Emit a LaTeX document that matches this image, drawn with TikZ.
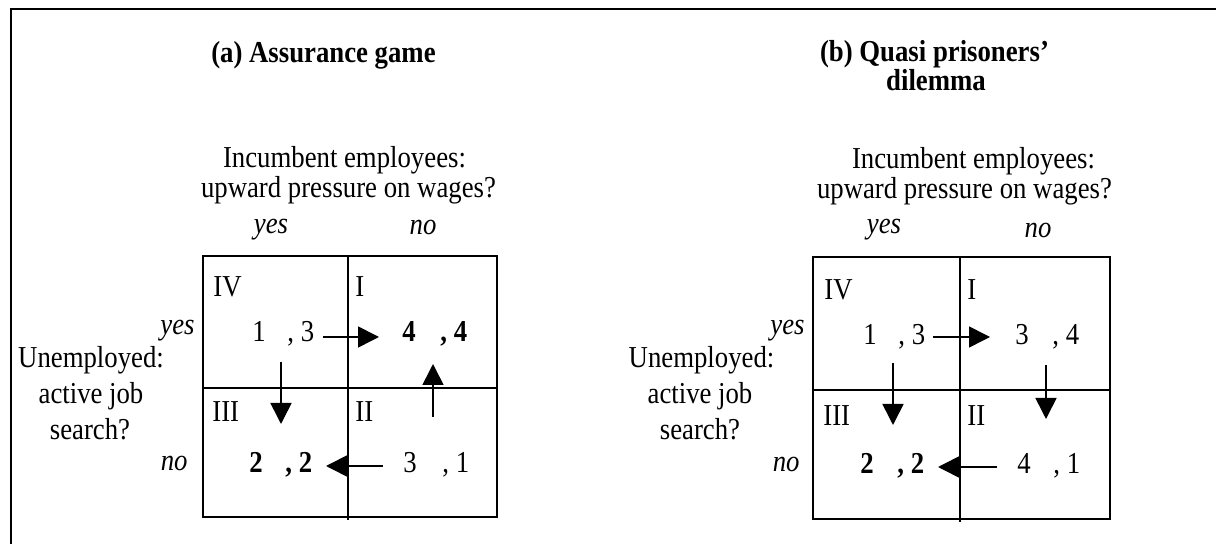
\documentclass[tikz,border=0pt]{standalone}
\usepackage{fontspec}
\setmainfont{Liberation Serif}[FakeStretch=0.88]
\usetikzlibrary{arrows.meta}
\tikzset{
  txt/.style={font=\fontsize{15.2}{17}\selectfont, inner sep=0pt, anchor=base, text height=10.2pt, text depth=3pt},
  itx/.style={txt, font=\fontsize{15.2}{17}\selectfont\itshape},
  bfx/.style={txt, font=\fontsize{15.2}{17}\selectfont\bfseries},
  gridline/.style={line width=1pt},
  frameline/.style={line width=1.3pt},
  arr/.style={line width=0.8pt, -{Triangle[length=10.5pt,width=10.5pt]}},
}
\begin{document}
\begin{tikzpicture}[x=0.5pt,y=-0.5pt]
\useasboundingbox (0,0) rectangle (1216,544);
% outer frame (top and left only)
\coordinate (fTL) at (11,9);
\coordinate (fTR) at (1216,9);
\coordinate (fBL) at (11,544);
\draw[frameline] (fTR) -- (fTL) -- (fBL);

% ================= Panel (a) =================
\node[bfx] (ta) at (323.5,63) {(a) Assurance game};
\node[txt] (ha1) at (344.5,167.5) {Incumbent employees:};
\node[txt] (ha2) at (348.5,197.5) {upward pressure on wages?};
\node[itx] (yesa) at (271,234) {yes};
\node[itx] (noa) at (423,235) {no};
\node[itx, anchor=base east] (yesla) at (195,335) {yes};
\node[itx, anchor=base east] (nola) at (188,471) {no};
\node[txt] (ua1) at (91,368) {Unemployed:};
\node[txt] (ua2) at (91,404) {active job};
\node[txt] (ua3) at (90,440) {search?};
% grid
\coordinate (aTL) at (203,256);
\coordinate (aBR) at (497,517);
\coordinate (aMT) at (348,256);
\coordinate (aMB) at (348,520);
\coordinate (aML) at (203,388);
\coordinate (aMR) at (497,388);
\draw[gridline] (aTL) rectangle (aBR);
\draw[gridline] (aMT) -- (aMB);
\draw[gridline] (aML) -- (aMR);
% quadrant labels
\node[txt, anchor=base west] (a4) at (213,297) {IV};
\node[txt, anchor=base west] (a1) at (355,297) {I};
\node[txt, anchor=base west] (a3) at (212,422) {III};
\node[txt, anchor=base west] (a2) at (355,422) {II};
% payoffs
\node[txt, anchor=base west] (a4p1) at (252,342) {1};
\node[txt, anchor=base west] (a4p2) at (287,342) {, 3};
\node[bfx, anchor=base west] (a1p1) at (402,342) {4};
\node[bfx, anchor=base west] (a1p2) at (440,342) {, 4};
\node[bfx, anchor=base west] (a3p1) at (249,473) {2};
\node[bfx, anchor=base west] (a3p2) at (285,473) {, 2};
\node[txt, anchor=base west] (a2p1) at (403,473) {3};
\node[txt, anchor=base west] (a2p2) at (442,473) {, 1};
% arrows
\coordinate (aR1) at (323,337);
\coordinate (aR2) at (379,337);
\coordinate (aD1) at (281,362);
\coordinate (aD2) at (281,424);
\coordinate (aU1) at (433,417);
\coordinate (aU2) at (433,364);
\coordinate (aL1) at (383,466);
\coordinate (aL2) at (326,466);
\draw[arr] (aR1) -- (aR2);
\draw[arr] (aD1) -- (aD2);
\draw[arr] (aU1) -- (aU2);
\draw[arr] (aL1) -- (aL2);

% ================= Panel (b) =================
\node[bfx] (tb1) at (934.5,62) {(b) Quasi prisoners’};
\node[bfx] (tb2) at (936,91) {dilemma};
\node[txt] (hb1) at (973.5,168.5) {Incumbent employees:};
\node[txt] (hb2) at (964.5,198.5) {upward pressure on wages?};
\node[itx] (yesb) at (884,234) {yes};
\node[itx] (nob) at (1038,238) {no};
\node[itx, anchor=base east] (yeslb) at (805,335) {yes};
\node[itx, anchor=base east] (nolb) at (800,472) {no};
\node[txt] (ub1) at (701.5,368) {Unemployed:};
\node[txt] (ub2) at (700,404) {active job};
\node[txt] (ub3) at (700,440) {search?};
% grid
\coordinate (bTL) at (813,257);
\coordinate (bBR) at (1110,519);
\coordinate (bMT) at (960,257);
\coordinate (bMB) at (960,522);
\coordinate (bML) at (813,390);
\coordinate (bMR) at (1110,390);
\draw[gridline] (bTL) rectangle (bBR);
\draw[gridline] (bMT) -- (bMB);
\draw[gridline] (bML) -- (bMR);
% quadrant labels
\node[txt, anchor=base west] (b4) at (824,300) {IV};
\node[txt, anchor=base west] (b1) at (967,300) {I};
\node[txt, anchor=base west] (b3) at (823,426) {III};
\node[txt, anchor=base west] (b2) at (967,426) {II};
% payoffs
\node[txt, anchor=base west] (b4p1) at (863,345) {1};
\node[txt, anchor=base west] (b4p2) at (898,345) {, 3};
\node[txt, anchor=base west] (b1p1) at (1015,345) {3};
\node[txt, anchor=base west] (b1p2) at (1052,345) {, 4};
\node[bfx, anchor=base west] (b3p1) at (860,474) {2};
\node[bfx, anchor=base west] (b3p2) at (897,474) {, 2};
\node[txt, anchor=base west] (b2p1) at (1017,474) {4};
\node[txt, anchor=base west] (b2p2) at (1053,474) {, 1};
% arrows
\coordinate (bR1) at (933,337);
\coordinate (bR2) at (990,337);
\coordinate (bD1) at (893,363);
\coordinate (bD2) at (893,425);
\coordinate (bE1) at (1046,365);
\coordinate (bE2) at (1046,419);
\coordinate (bL1) at (997,467);
\coordinate (bL2) at (938,467);
\draw[arr] (bR1) -- (bR2);
\draw[arr] (bD1) -- (bD2);
\draw[arr] (bE1) -- (bE2);
\draw[arr] (bL1) -- (bL2);
\end{tikzpicture}
\end{document}
